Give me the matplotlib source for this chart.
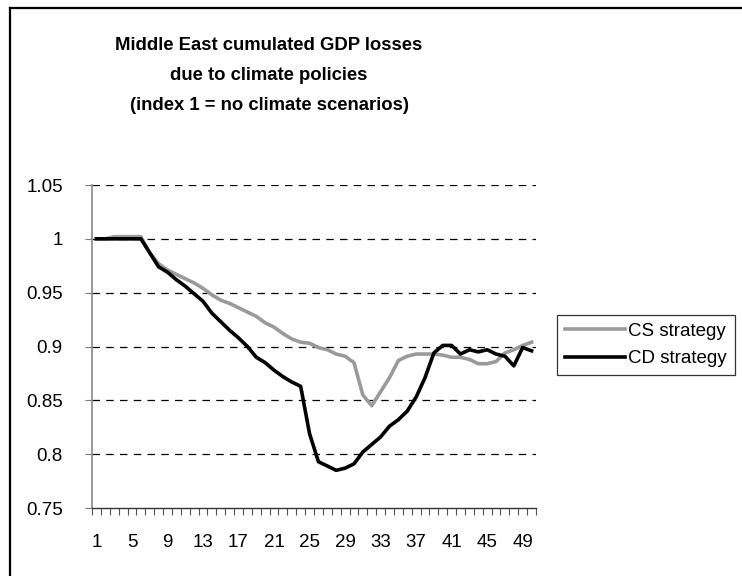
import numpy as np
import matplotlib
matplotlib.use("Agg")
import matplotlib.pyplot as plt
from matplotlib.lines import Line2D

plt.rcParams["font.family"] = ["Liberation Sans", "DejaVu Sans"]

# periods 1..50, index relative to the no-climate scenario
periods = list(range(1, 51))
cs_strategy = [
    1.000, 1.000, 1.002, 1.002, 1.002, 1.002, 0.987, 0.977, 0.971, 0.967,
    0.963, 0.959, 0.954, 0.948, 0.943, 0.940, 0.936, 0.932, 0.928, 0.922,
    0.918, 0.912, 0.907, 0.904, 0.903, 0.899, 0.897, 0.893, 0.891, 0.885,
    0.855, 0.845, 0.858, 0.871, 0.887, 0.891, 0.893, 0.893, 0.893, 0.892,
    0.890, 0.890, 0.888, 0.884, 0.884, 0.886, 0.894, 0.897, 0.901, 0.904,
]
cd_strategy = [
    1.000, 1.000, 1.000, 1.000, 1.000, 1.000, 0.987, 0.974, 0.969, 0.962,
    0.956, 0.949, 0.942, 0.931, 0.923, 0.915, 0.908, 0.900, 0.890, 0.885,
    0.878, 0.872, 0.867, 0.863, 0.819, 0.793, 0.789, 0.785, 0.787, 0.791,
    0.802, 0.809, 0.816, 0.826, 0.832, 0.840, 0.853, 0.871, 0.894, 0.901,
    0.901, 0.893, 0.897, 0.895, 0.897, 0.893, 0.891, 0.882, 0.899, 0.896,
]
series_names = ["CS strategy", "CD strategy"]
y_ticks = [0.75, 0.8, 0.85, 0.9, 0.95, 1, 1.05]
y_tick_labels = ["0.75", "0.8", "0.85", "0.9", "0.95", "1", "1.05"]
x_label_ticks = list(range(1, 51, 4))

fig = plt.figure(figsize=(7.42, 5.76), dpi=100)
ax = fig.add_axes([92 / 742, 1 - 508 / 576, 444 / 742, 323 / 576])

for y in y_ticks[1:]:
    ax.axhline(y, color="black", lw=0.9, ls=(0, (6, 5)), zorder=1)

ax.plot(periods, cs_strategy, color="#9a9a9a", lw=2.6, label=series_names[0],
        solid_joinstyle="round", zorder=3)
ax.plot(periods, cd_strategy, color="black", lw=2.6, label=series_names[1],
        solid_joinstyle="round", zorder=4)

ax.set_xlim(0.5, 50.5)
ax.set_ylim(0.75, 1.05)
ax.set_yticks(y_ticks)
ax.set_yticklabels(y_tick_labels)
ax.set_xticks(x_label_ticks)
ax.set_xticklabels([str(v) for v in x_label_ticks])
ax.set_xticks(np.arange(0.5, 51, 1), minor=True)
ax.tick_params(axis="x", which="major", length=0, pad=19, labelsize=13.5)
ax.tick_params(axis="x", which="minor", length=5, width=0.8, color="#555555")
ax.tick_params(axis="y", length=5, width=0.8, color="#777777", labelsize=13.5, pad=16)

for side in ("top", "right"):
    ax.spines[side].set_visible(False)
ax.spines["left"].set_color("#888888")
ax.spines["left"].set_linewidth(1.2)
ax.spines["bottom"].set_color("#333333")
ax.spines["bottom"].set_linewidth(1.0)

leg = ax.legend(loc="center left", bbox_to_anchor=(557 / 742, 1 - 383 / 576, 178 / 742, 76 / 576),
                bbox_transform=fig.transFigure, mode="expand", frameon=True, fancybox=False,
                edgecolor="black", fontsize=13.5, handlelength=3.2, handletextpad=0.2,
                borderpad=0.4, labelspacing=0.55, borderaxespad=0)
leg.get_frame().set_linewidth(0.9)

title_lines = ["Middle East cumulated GDP losses", "due to climate policies",
               "(index 1 = no climate scenarios)"]
for row, line in enumerate(title_lines):
    fig.text(269 / 742, 1 - (45 + 30 * row) / 576, line, ha="center", va="center",
             fontsize=13.3, fontweight="bold")

# chart area frame, only the top and left edges fall inside the image
fig.add_artist(Line2D([10 / 742, 1.0], [1 - 8 / 576, 1 - 8 / 576], color="black", lw=1.6,
                      transform=fig.transFigure))
fig.add_artist(Line2D([10 / 742, 10 / 742], [0.0, 1 - 8 / 576], color="black", lw=1.6,
                      transform=fig.transFigure))

fig.savefig("out.png", dpi=100)
